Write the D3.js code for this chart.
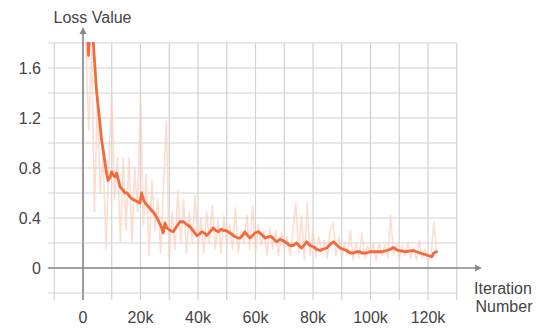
<!DOCTYPE html>
<html>
<head>
<meta charset="utf-8">
<script src="https://cdn.jsdelivr.net/npm/d3@7"></script>
<style>
  html, body { margin: 0; padding: 0; background: #fff; }
  svg { display: block; font-family: "Liberation Sans", Arial, sans-serif; }
</style>
</head>
<body>
<svg id="chart" width="543" height="329"></svg>
<script>
// ---- data ----
const xTicks = [0, 20, 40, 60, 80, 100, 120];              // thousands of iterations
const xTickLabels = ["0", "20k", "40k", "60k", "80k", "100k", "120k"];
const yTicks = [0, 0.4, 0.8, 1.2, 1.6];
const yTickLabels = ["0", "0.4", "0.8", "1.2", "1.6"];

// raw loss, one value per 1k iterations starting at 1k
const rawSteps = [1,2,3,4,5,6,7,8,9,10,11,12,13,14,15,16,17,18,19,20,21,22,23,24,25,26,27,28,29,30,
  31,32,33,34,35,36,37,38,39,40,41,42,43,44,45,46,47,48,49,50,51,52,53,54,55,56,57,58,59,60,
  61,62,63,64,65,66,67,68,69,70,71,72,73,74,75,76,77,78,79,80,81,82,83,84,85,86,87,88,89,90,
  91,92,93,94,95,96,97,98,99,100,101,102,103,104,105,106,107,108,109,110,111,112,113,114,115,116,117,118,119,120,121,122,123];
const rawValues = [1.8,1.1,1.75,0.45,1.35,0.6,0.9,0.15,0.85,1.38,0.55,0.88,0.2,0.88,0.3,0.88,0.2,0.8,0.45,1.38,
  0.35,0.75,0.1,0.7,0.3,0.55,0.12,0.65,1.18,0.08,0.45,0.15,0.62,0.2,0.55,0.12,0.45,0.2,0.58,0.15,
  0.4,0.12,0.45,0.2,0.5,0.15,0.38,0.12,0.42,0.2,0.35,0.15,0.48,0.12,0.3,0.2,0.42,0.15,0.5,0.12,
  0.35,0.18,0.3,0.1,0.32,0.15,0.3,0.1,0.28,0.15,0.25,0.1,0.3,0.52,0.12,0.42,0.06,0.52,0.1,0.3,
  0.09,0.25,0.12,0.22,0.08,0.3,0.36,0.1,0.25,0.08,0.2,0.1,0.3,0.06,0.2,0.08,0.28,0.08,0.18,0.1,
  0.2,0.06,0.2,0.1,0.18,0.08,0.42,0.1,0.2,0.06,0.18,0.1,0.2,0.08,0.16,0.06,0.22,0.08,0.15,0.05,
  0.1,0.37,0.12];

// smoothed loss
const smoothSteps = [1.6,1.9,2.4,3.3,4.7,6.5,8.2,8.7,9.3,10,10.6,11.1,11.7,12.9,14,14.6,15.4,16.3,17.2,18.1,19,19.8,
  20.4,21,21.6,22.8,23.9,25,26.2,27.2,27.9,28.5,29.2,30.3,31.4,32.5,33.7,34.9,36,37.2,38.3,39.5,
  40.5,41.3,42.2,43,44.2,45.3,46.2,47.1,48,48.8,49.7,50.5,51.7,52.9,54,54.6,55.5,56.3,57.2,58.1,
  59,59.8,60.9,61.6,62.5,63.3,64.5,65.6,66.8,67.5,68.5,69.5,70.8,72,73.1,74.3,75.5,76.1,77.8,79,
  80.1,81.3,82.4,83.5,84.8,86,87.1,88,89.4,90.5,91.7,93,94,95.2,96.3,97,98.6,99.8,101,102.7,
  104,105.6,107,107.9,108.8,109.7,111,112,113.5,114.9,116,117.2,118.6,120.1,121.3,122,123];
const smoothValues = [1.9,1.7,1.9,1.9,1.42,1.02,0.76,0.70,0.72,0.77,0.74,0.73,0.76,0.65,0.62,0.60,0.60,0.57,0.55,0.54,0.53,0.52,
  0.60,0.55,0.52,0.49,0.46,0.43,0.38,0.33,0.28,0.36,0.32,0.30,0.29,0.33,0.37,0.37,0.35,0.33,0.30,0.26,
  0.27,0.29,0.28,0.26,0.29,0.32,0.30,0.29,0.31,0.30,0.30,0.29,0.27,0.25,0.24,0.24,0.26,0.29,0.26,0.24,
  0.26,0.28,0.29,0.28,0.26,0.24,0.25,0.25,0.22,0.21,0.23,0.22,0.20,0.18,0.18,0.20,0.17,0.16,0.21,0.18,
  0.17,0.15,0.14,0.15,0.16,0.19,0.21,0.19,0.16,0.15,0.14,0.12,0.12,0.13,0.13,0.12,0.12,0.13,0.13,0.13,
  0.13,0.14,0.15,0.165,0.15,0.14,0.135,0.13,0.135,0.14,0.13,0.12,0.11,0.10,0.09,0.12,0.13];

// ---- drawing ----
const svg = d3.select("#chart");
const x = d3.scaleLinear().domain([-10, 130]).range([54.25, 456.75]);
const y = d3.scaleLinear().domain([-0.2, 1.8]).range([293, 43]);

const gridColor = "#d2d2d2";
const axisColor = "#888";
const textColor = "#444";

// grid
const vGrid = d3.range(-10, 131, 10);
const hGrid = d3.range(-0.2, 1.81, 0.2);
svg.append("g").selectAll("line").data(vGrid).join("line")
  .attr("x1", d => x(d)).attr("x2", d => x(d))
  .attr("y1", y(1.8)).attr("y2", y(-0.2) + 7)
  .attr("stroke", gridColor).attr("stroke-width", 1.2);
svg.append("g").selectAll("line").data(hGrid).join("line")
  .attr("x1", x(-10) - 6).attr("x2", x(130))
  .attr("y1", d => y(d)).attr("y2", d => y(d))
  .attr("stroke", gridColor).attr("stroke-width", 1.2);

// clip
svg.append("clipPath").attr("id", "clip").append("rect")
  .attr("x", x(-10)).attr("y", y(1.8) - 1).attr("width", x(130) - x(-10)).attr("height", y(-0.2) - y(1.8) + 1);

const plot = svg.append("g").attr("clip-path", "url(#clip)");
const rawData = rawSteps.map((s, i) => [s, rawValues[i]]);
const smoothData = smoothSteps.map((s, i) => [s, smoothValues[i]]);
const line = d3.line().x(d => x(d[0])).y(d => y(d[1]));

plot.append("path").datum(rawData).attr("d", line)
  .attr("fill", "none").attr("stroke", "#fbcfbf").attr("stroke-opacity", 0.7)
  .attr("stroke-width", 1.6).attr("stroke-linejoin", "round");

// axes
svg.append("line").attr("x1", x(0)).attr("x2", x(0)).attr("y1", y(-0.2) + 7).attr("y2", 32)
  .attr("stroke", axisColor).attr("stroke-width", 1.6);
svg.append("path").attr("d", `M${x(0)-3.5},34 L${x(0)},27 L${x(0)+3.5},34 Z`).attr("fill", axisColor);
svg.append("line").attr("x1", x(-10) - 6).attr("x2", 477).attr("y1", y(0)).attr("y2", y(0))
  .attr("stroke", axisColor).attr("stroke-width", 1.6);
svg.append("path").attr("d", `M475,${y(0)-3.5} L482,${y(0)} L475,${y(0)+3.5} Z`).attr("fill", axisColor);

plot.append("path").datum(smoothData).attr("d", line)
  .attr("fill", "none").attr("stroke", "#f26a3c")
  .attr("stroke-width", 2.8).attr("stroke-linejoin", "round").attr("stroke-linecap", "round");

// tick labels
svg.append("g").selectAll("text").data(yTicks).join("text")
  .attr("x", 41).attr("y", d => y(d) + 6)
  .attr("text-anchor", "end").attr("font-size", 16).attr("fill", textColor)
  .text((d, i) => yTickLabels[i]);
svg.append("g").selectAll("text").data(xTicks).join("text")
  .attr("x", d => x(d)).attr("y", 323)
  .attr("text-anchor", "middle").attr("font-size", 16).attr("fill", textColor)
  .text((d, i) => xTickLabels[i]);

// axis titles
svg.append("text").attr("x", 92.5).attr("y", 23).attr("text-anchor", "middle")
  .attr("font-size", 16).attr("fill", textColor).text("Loss Value");
const xt = svg.append("text").attr("text-anchor", "middle").attr("font-size", 16).attr("fill", textColor);
xt.append("tspan").attr("x", 503).attr("y", 294).text("Iteration");
xt.append("tspan").attr("x", 504).attr("y", 312).text("Number");
</script>
</body>
</html>
